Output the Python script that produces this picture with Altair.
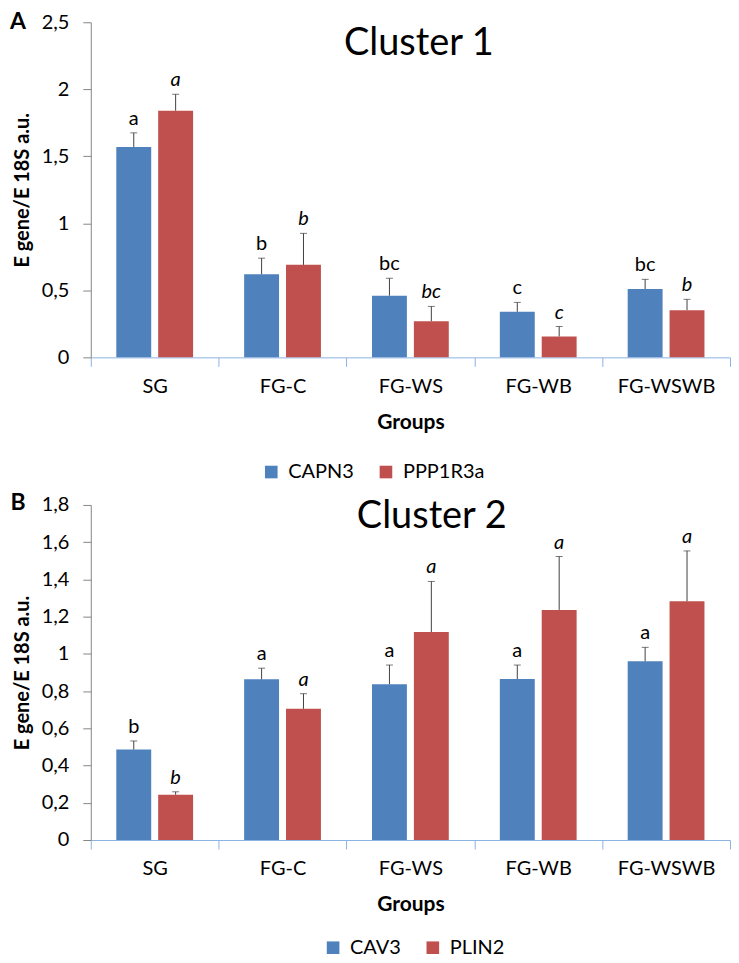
import altair as alt
import pandas as pd

groups = ["SG", "FG-C", "FG-WS", "FG-WB", "FG-WSWB"]

# Panel A (Cluster 1)
a_names = ["CAPN3", "PPP1R3a"]
a_capn3 = [1.57, 0.62, 0.46, 0.34, 0.51]
a_capn3_err = [0.105, 0.12, 0.13, 0.07, 0.072]
a_capn3_let = ["a", "b", "bc", "c", "bc"]
a_ppp = [1.84, 0.69, 0.27, 0.156, 0.352]
a_ppp_err = [0.123, 0.235, 0.11, 0.074, 0.081]
a_ppp_let = ["a", "b", "bc", "c", "b"]
a_ticks = [0, 0.5, 1, 1.5, 2, 2.5]

# Panel B (Cluster 2)
b_names = ["CAV3", "PLIN2"]
b_cav3 = [0.486, 0.863, 0.837, 0.865, 0.96]
b_cav3_err = [0.046, 0.06, 0.103, 0.075, 0.075]
b_cav3_let = ["b", "a", "a", "a", "a"]
b_plin2 = [0.243, 0.705, 1.117, 1.236, 1.282]
b_plin2_err = [0.016, 0.081, 0.272, 0.287, 0.271]
b_plin2_let = ["b", "a", "a", "a", "a"]
b_ticks = [0, 0.2, 0.4, 0.6, 0.8, 1.0, 1.2, 1.4, 1.6, 1.8]

BLUE = "#4F81BD"
RED = "#C0504D"
ERR = "#404040"
FONT = "Lato"
W = 641
H = 336
BAR_W = 35
SHIFT = 21  # half distance between the two bar centres in a group


def panel(names, v1, e1, l1, v2, e2, l2, ticks, title, letter, tx, ty, lx, ly, letter_y):
    rows = []
    for i, g in enumerate(groups):
        rows.append({"group": g, "series": names[0], "value": v1[i], "upper": v1[i] + e1[i], "letter": l1[i]})
        rows.append({"group": g, "series": names[1], "value": v2[i], "upper": v2[i] + e2[i], "letter": l2[i]})
    df = pd.DataFrame(rows)
    base = alt.Chart(df)

    xaxis = alt.Axis(
        title="Groups", labelAngle=0, tickBand="extent", domainColor="#8DB3E2",
        tickColor="#8DB3E2", tickSize=9, labelFont=FONT, labelFontSize=20,
        labelColor="#000", labelPadding=10, titleFont=FONT, titleFontSize=21,
        titleFontWeight="bold", titleColor="#000", titlePadding=15, grid=False,
    )
    yaxis = alt.Axis(
        title="E gene/E 18S a.u.", values=ticks, grid=False, domainColor="#868686",
        tickColor="#868686", tickSize=8, labelFont=FONT, labelFontSize=20,
        labelColor="#000", labelPadding=14,
        labelExpr="replace(format(datum.value, '~g'), '.', ',')",
        titleFont=FONT, titleFontSize=20, titleFontWeight="bold", titleColor="#000",
        titlePadding=9,
    )
    x = alt.X("group:N", scale=alt.Scale(domain=groups, paddingInner=0, paddingOuter=0), axis=xaxis)
    yscale = alt.Scale(domain=[0, ticks[-1]], nice=False, zero=True)
    color = alt.Color(
        "series:N",
        scale=alt.Scale(domain=names, range=[BLUE, RED]),
        legend=alt.Legend(
            orient="none", legendX=lx, legendY=ly, direction="horizontal", title=None,
            symbolType="square", symbolSize=160, symbolStrokeWidth=0,
            labelFont=FONT, labelFontSize=20, labelColor="#000", columnPadding=22,
            symbolOffset=0, labelOffset=7,
        ),
    )

    layers = []
    for name, sign, style in [(names[0], -1, "normal"), (names[1], 1, "italic")]:
        sub = base.transform_filter(alt.datum.series == name)
        off = sign * SHIFT
        layers.append(sub.mark_bar(width=BAR_W, xOffset=off).encode(
            x=x, y=alt.Y("value:Q", scale=yscale, axis=yaxis), color=color))
        layers.append(sub.mark_rule(color=ERR, strokeWidth=1, xOffset=off).encode(
            x=x, y=alt.Y("value:Q", scale=yscale, axis=yaxis), y2="upper:Q"))
        layers.append(sub.mark_tick(color=ERR, size=7, thickness=1, xOffset=off).encode(
            x=x, y=alt.Y("upper:Q", scale=yscale, axis=yaxis)))
        layers.append(sub.mark_text(
            baseline="bottom", dy=-4, dx=off, fontSize=20, font=FONT, fontStyle=style, color="#000"
        ).encode(x=x, y=alt.Y("upper:Q", scale=yscale, axis=yaxis), text="letter:N"))

    ttl = alt.Chart(pd.DataFrame({"t": [title]})).mark_text(
        fontSize=38, font=FONT, color="#000", baseline="middle", align="center"
    ).encode(x=alt.value(tx), y=alt.value(ty), text="t:N")
    let = alt.Chart(pd.DataFrame({"t": [letter]})).mark_text(
        fontSize=23, font=FONT, fontWeight="bold", color="#000", baseline="middle", align="center"
    ).encode(x=alt.value(-73), y=alt.value(letter_y), text="t:N")

    return alt.layer(*layers, ttl, let).properties(width=W, height=H)


pa = panel(a_names, a_capn3, a_capn3_err, a_capn3_let, a_ppp, a_ppp_err, a_ppp_let,
           a_ticks, "Cluster 1", "A", 329, 22, 171, 441, 0)
pb = panel(b_names, b_cav3, b_cav3_err, b_cav3_let, b_plin2, b_plin2_err, b_plin2_let,
           b_ticks, "Cluster 2", "B", 342, 12, 233, 434, -2)

chart = alt.vconcat(pa, pb, spacing=10).resolve_scale(color="independent").properties(
    padding={"left": 2, "top": 2, "right": 0, "bottom": 0}
).configure_view(stroke=None)

chart.save("out.html", embed_options={"renderer": "svg", "actions": False})
